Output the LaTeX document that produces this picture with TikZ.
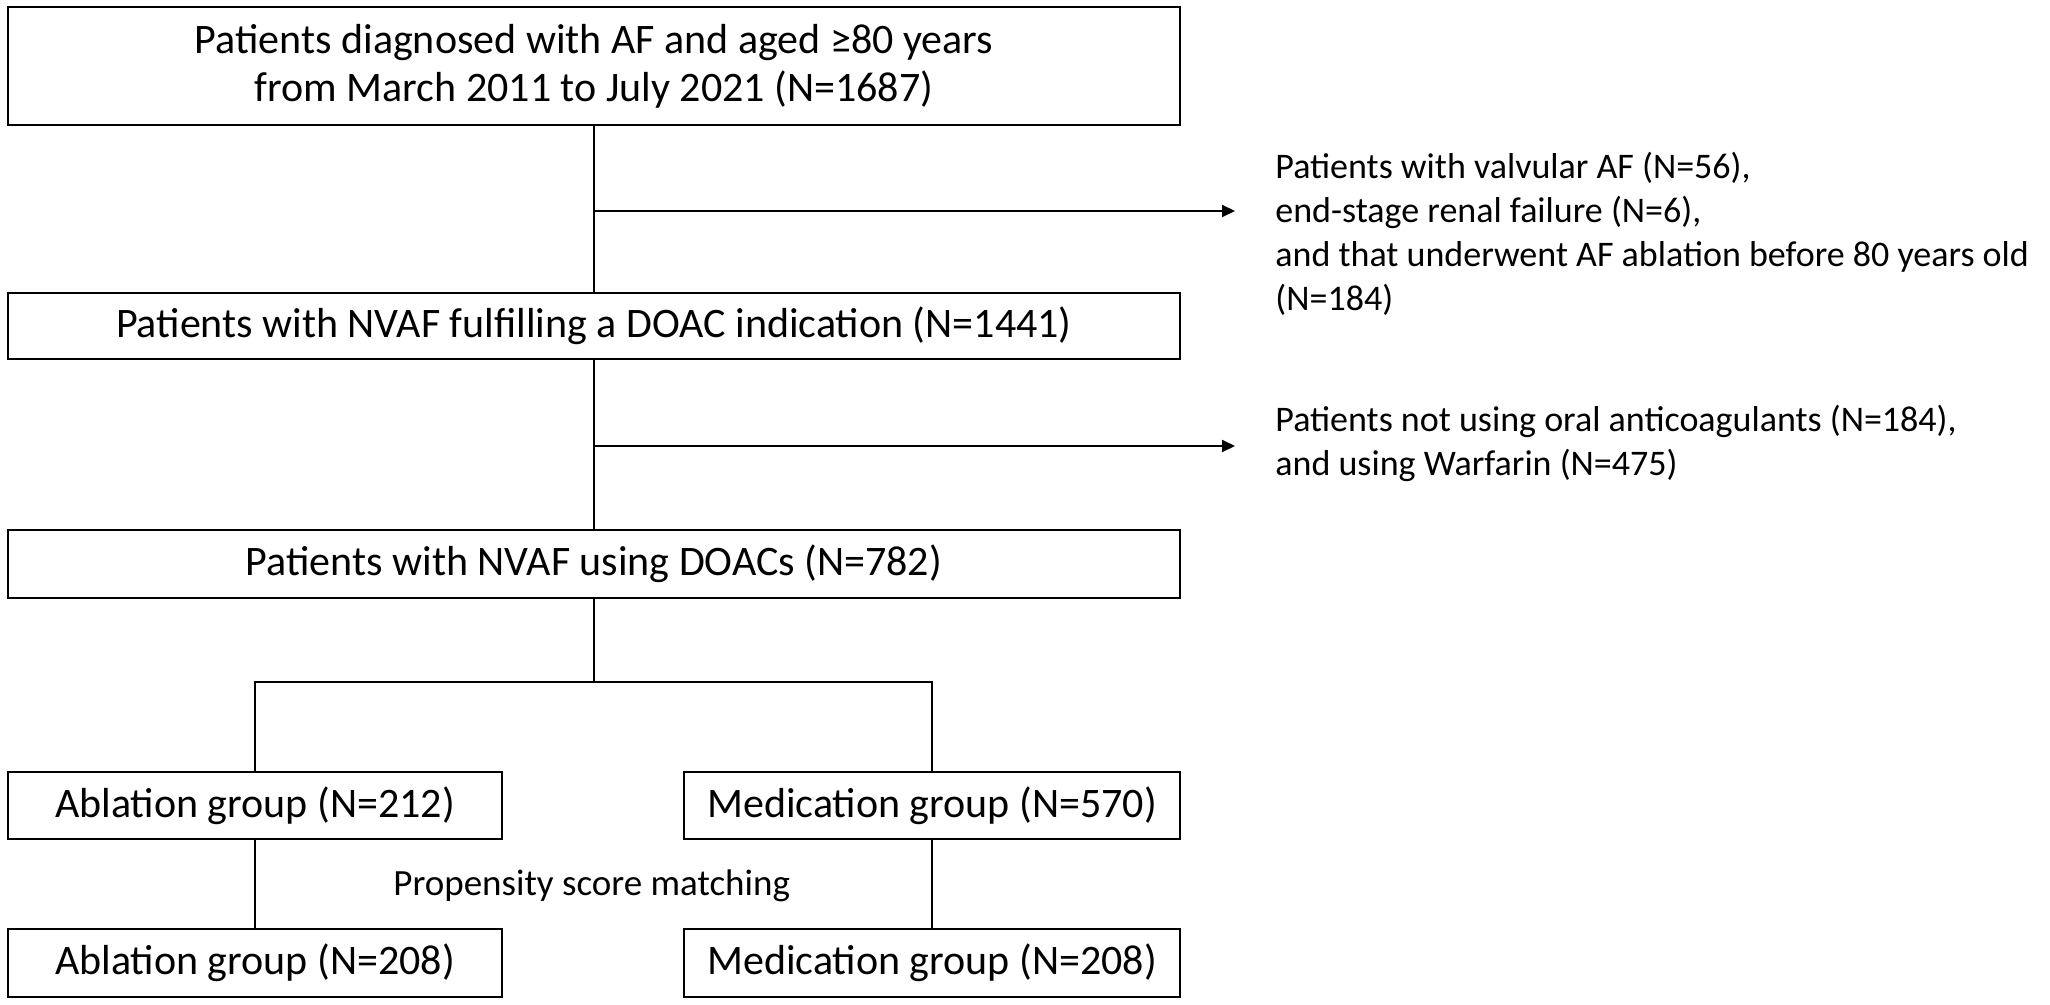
\documentclass[tikz,border=0pt]{standalone}
\usepackage{fontspec}
\setmainfont{Carlito}
\usetikzlibrary{arrows.meta}
\begin{document}
\begin{tikzpicture}[x=0.5pt,y=-0.5pt,
  box/.style={draw,line width=1pt,inner sep=0pt,align=center,font=\fontsize{21}{24}\selectfont},
  side/.style={anchor=west,inner sep=0pt,align=left,font=\fontsize{18}{22}\selectfont},
  conn/.style={line width=1pt},
  arr/.style={line width=1pt,-{Triangle[length=6.5pt,width=6pt]}}]
\useasboundingbox (0,0) rectangle (2050,1005);
\node[box,minimum width=586pt,minimum height=59pt] (b1) at (594,66) {Patients diagnosed with AF and aged ≥80 years\\from March 2011 to July 2021 (N=1687)};
\node[box,minimum width=586pt,minimum height=33pt] (b2) at (594,326) {Patients with NVAF fulfilling a DOAC indication (N=1441)};
\node[box,minimum width=586pt,minimum height=34pt] (b3) at (594,564) {Patients with NVAF using DOACs (N=782)};
\node[box,minimum width=247pt,minimum height=33.5pt] (b4) at (255,805.5) {Ablation group (N=212)};
\node[box,minimum width=248pt,minimum height=33.5pt] (b5) at (932,805.5) {Medication group (N=570)};
\node[box,minimum width=247pt,minimum height=34pt] (b6) at (255,962.5) {Ablation group (N=208)};
\node[box,minimum width=248pt,minimum height=34pt] (b7) at (932,962.5) {Medication group (N=208)};
\node[side] (x1) at (1275,234) {Patients with valvular AF (N=56),\\end-stage renal failure (N=6),\\and that underwent AF ablation before 80 years old\\(N=184)};
\node[side] (x2) at (1275,443) {Patients not using oral anticoagulants (N=184),\\and using Warfarin (N=475)};
\node[anchor=base west,inner sep=0pt,font=\fontsize{18.5}{22}\selectfont] (psm) at (393,895) {Propensity score matching};
\coordinate (e1) at (1235,211);
\coordinate (e2) at (1235,446);
\coordinate (split) at (594,682);
\draw[conn] (b1.south) -- (b2.north);
\draw[conn] (b2.south) -- (b3.north);
\draw[arr] (b1.south |- e1) -- (e1);
\draw[arr] (b2.south |- e2) -- (e2);
\draw[conn] (b3.south) -- (split);
\draw[conn] (split) -| (b4.north);
\draw[conn] (split) -| (b5.north);
\draw[conn] (b4.south) -- (b6.north);
\draw[conn] (b5.south) -- (b7.north);
\end{tikzpicture}
\end{document}
